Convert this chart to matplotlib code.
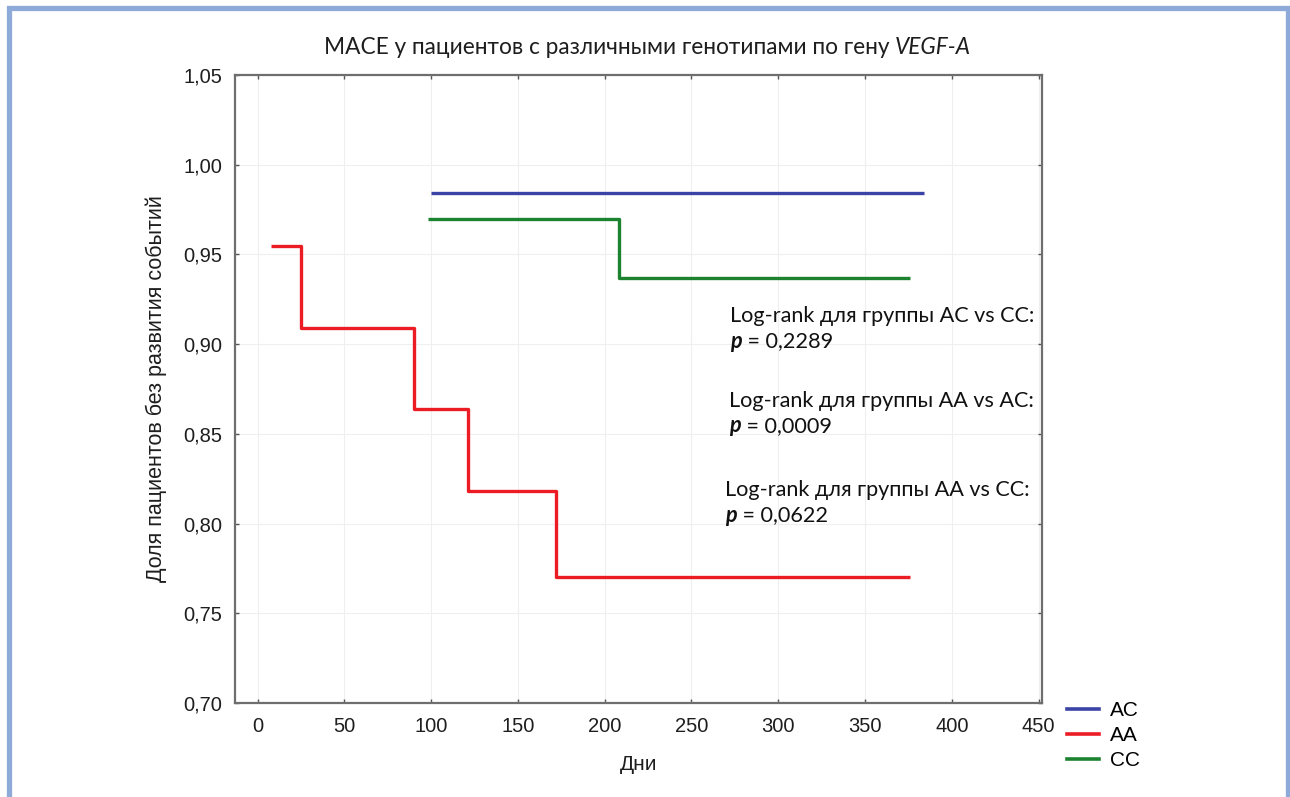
import matplotlib
matplotlib.use("Agg")
import matplotlib.pyplot as plt
from matplotlib.patches import Rectangle
from matplotlib.lines import Line2D
import matplotlib.transforms as mtransforms

# ---- data ----
ac_days = [100, 384]
ac_surv = [0.984, 0.984]
aa_days = [8, 25, 90, 121, 172, 376]
aa_surv = [0.9545, 0.9091, 0.8636, 0.8182, 0.7700, 0.7700]
cc_days = [98, 208, 376]
cc_surv = [0.970, 0.937, 0.937]

xticks = [0, 50, 100, 150, 200, 250, 300, 350, 400, 450]
yticks = [0.70, 0.75, 0.80, 0.85, 0.90, 0.95, 1.00, 1.05]
ytick_labels = ["0,70", "0,75", "0,80", "0,85", "0,90", "0,95", "1,00", "1,05"]

legend_labels = ["AC", "AA", "CC"]
annot_lines = ["Log-rank для группы AC vs CC:",
               "Log-rank для группы AA vs AC:",
               "Log-rank для группы AA vs CC:"]
annot_p = ["0,2289", "0,0009", "0,0622"]

# ---- style ----
C_AC = "#3b44a6"
C_AA = "#ec1c24"
C_CC = "#1b8230"
SANS = ["Liberation Sans", "DejaVu Sans"]
CAL = ["Lato", "DejaVu Sans"]
TXT = "#1e1e1e"

W, H = 1290, 797
fig = plt.figure(figsize=(W / 100, H / 100), dpi=100)
ax = fig.add_axes([235 / W, 1 - 703 / H, (1042 - 235) / W, (703 - 75) / H])

ax.plot(ac_days, ac_surv, drawstyle="steps-post", color=C_AC, lw=2.4, solid_capstyle="butt")
ax.plot(aa_days, aa_surv, drawstyle="steps-post", color=C_AA, lw=2.4, solid_capstyle="butt")
ax.plot(cc_days, cc_surv, drawstyle="steps-post", color=C_CC, lw=2.4, solid_capstyle="butt")

ax.set_xlim(-13, 452)
ax.set_ylim(0.70, 1.05)
ax.set_xticks(xticks)
ax.set_xticklabels([str(t) for t in xticks], family=SANS, fontsize=14.5, color=TXT)
ax.set_yticks(yticks)
ax.set_yticklabels(ytick_labels, family=SANS, fontsize=14.5, color=TXT)
ax.tick_params(direction="in", length=3, width=1, color="#555555",
               top=True, right=True, pad=9)
ax.tick_params(axis="x", pad=10)
ax.grid(True, color="#efefef", lw=0.8)
for s in ax.spines.values():
    s.set_color("#6e6e6e")
    s.set_linewidth(1.6)

ax.set_xlabel("Дни", family=SANS, fontsize=15, labelpad=14, color=TXT)
ax.set_ylabel("Доля пациентов без развития событий", family=SANS, fontsize=15.5,
              labelpad=12, color=TXT)

# title with italic gene name (split point in pixels)
split_x = 895 / W
ty = 1 - 47 / H
fig.text(split_x, ty, "MACE у пациентов с различными генотипами по гену ",
         family=CAL, fontsize=16.3, ha="right", va="center", color=TXT)
fig.text(split_x, ty, "VEGF-A", family=CAL, fontsize=16.3, style="italic",
         ha="left", va="center", color=TXT)

# annotations
ann_pos = [(730, 316), (729, 401), (725, 490)]
for (px, py), line, pv in zip(ann_pos, annot_lines, annot_p):
    fx, fy = px / W, 1 - py / H
    fig.text(fx, fy, line, family=CAL, fontsize=15.6, ha="left", va="center", color="#111111")
    fy2 = 1 - (py + 25) / H
    fig.text(fx, fy2, "p", family=CAL, fontsize=15.6, style="italic", weight="bold",
             ha="left", va="center", color="#111111")
    fig.text(fx, fy2, " = " + pv, family=CAL, fontsize=15.6, ha="left", va="center", color="#111111",
             transform=mtransforms.offset_copy(fig.transFigure, fig=fig, x=12, y=0, units="dots"))

# legend outside
handles = [Line2D([], [], color=C_AC, lw=2.6),
           Line2D([], [], color=C_AA, lw=2.6),
           Line2D([], [], color=C_CC, lw=2.6)]
fig.legend(handles, legend_labels, loc="upper left",
           bbox_to_anchor=(1067 / W, 1 - 701 / H), frameon=False,
           prop={"family": SANS, "size": 15}, handlelength=1.55,
           handletextpad=0.5, labelspacing=0.3, borderaxespad=0, borderpad=0)

# outer border (open at bottom)
fig.patches.append(Rectangle((8.5 / W, -0.05), (1288 - 8.5) / W, 1.05 - 7.5 / H,
                             transform=fig.transFigure, fill=False,
                             edgecolor="#8eaad8", lw=3.8, zorder=10))

fig.savefig("out.png", dpi=100)
